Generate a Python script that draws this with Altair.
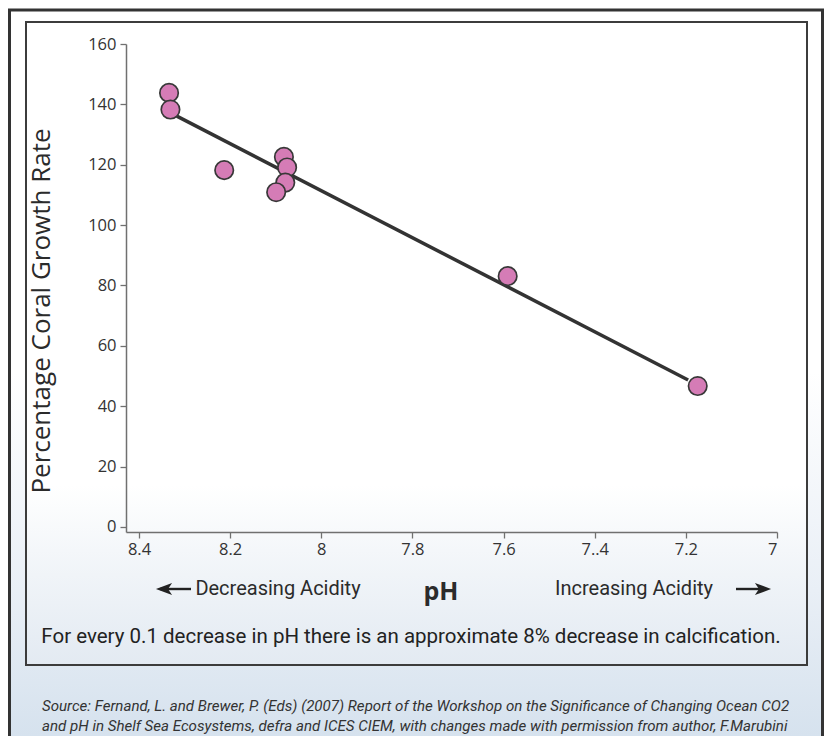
import altair as alt
import pandas as pd

# ---- data ----
ph = [8.334, 8.331, 8.213, 8.082, 8.075, 8.079, 8.099, 7.591, 7.174]
growth = [143.8, 138.3, 118.2, 122.6, 119.1, 114.1, 110.9, 83.1, 46.7]
fit_ph = [8.317, 7.195]
fit_growth = [136.1, 48.7]
x_tick_values = [8.4, 8.2, 8.0, 7.8, 7.6, 7.4, 7.2, 7.0]
x_tick_labels = ["8.4", "8.2", "8", "7.8", "7.6", "7..4", "7.2", "7"]
y_tick_values = [0, 20, 40, 60, 80, 100, 120, 140, 160]

y_title = "Percentage Coral Growth Rate"
x_title = "pH"
left_note = "Decreasing Acidity"
right_note = "Increasing Acidity"
caption = "For every 0.1 decrease in pH there is an approximate 8% decrease in calcification."
source_1 = "Source: Fernand, L. and Brewer, P. (Eds) (2007) Report of the Workshop on the Significance of Changing Ocean CO2"
source_2 = "and pH in Shelf Sea Ecosystems, defra and ICES CIEM, with changes made with permission from author, F.Marubini"

points = pd.DataFrame({"ph": ph, "growth": growth})
fit = pd.DataFrame({"ph": fit_ph, "growth": fit_growth})
one = pd.DataFrame({"k": [0]})

# plot area origin in page pixels
OX, OY = 126, 44
W, H = 651, 488


def X(sx):
    return sx - OX


def Y(sy):
    return sy - OY


label_expr = " : ".join(
    f"abs(datum.value - {v}) < 0.001 ? '{t}'" for v, t in zip(x_tick_values, x_tick_labels)
) + " : ''"

xscale = alt.Scale(domain=[7.0, 8.4285], reverse=True, nice=False, zero=False)
yscale = alt.Scale(domain=[-1.66, 160], nice=False, zero=False)

axis_common = dict(
    grid=False,
    domainColor="#707070",
    domainWidth=1.5,
    tickColor="#707070",
    tickWidth=1.3,
    tickSize=6,
    labelFont="Open Sans",
    labelFontSize=16.5,
    labelColor="#333333",
    title=None,
    zindex=2,
)

xaxis = alt.Axis(values=x_tick_values, labelExpr=label_expr, labelPadding=3, **axis_common)
yaxis = alt.Axis(values=y_tick_values, labelPadding=4, **axis_common)

TEXT = "#2b2b2b"
COND = "Roboto"

# ---- decorations ----
bg = alt.Chart(one).mark_rect(
    fill=alt.Gradient(
        gradient="linear", x1=0, x2=0, y1=0, y2=1,
        stops=[
            alt.GradientStop(offset=0, color="#ffffff"),
            alt.GradientStop(offset=0.5, color="#ffffff"),
            alt.GradientStop(offset=0.8, color="#e9eff6"),
            alt.GradientStop(offset=1, color="#d6e2ee"),
        ],
    )
).encode(x=alt.value(X(8)), x2=alt.value(X(824)), y=alt.value(Y(8)), y2=alt.value(Y(736)))

inner = alt.Chart(one).mark_rect(
    stroke="#3c3c3c", strokeWidth=2,
    fill=alt.Gradient(
        gradient="linear", x1=0, x2=0, y1=0, y2=1,
        stops=[
            alt.GradientStop(offset=0, color="#ffffff"),
            alt.GradientStop(offset=0.72, color="#ffffff"),
            alt.GradientStop(offset=0.86, color="#f0f4f8"),
            alt.GradientStop(offset=1, color="#e3eaf2"),
        ],
    ),
).encode(x=alt.value(X(26)), x2=alt.value(X(807)), y=alt.value(Y(22)), y2=alt.value(Y(665)))

frame_left = alt.Chart(one).mark_rule(color="#333333", strokeWidth=3).encode(
    x=alt.value(X(9.5)), y=alt.value(Y(9)), y2=alt.value(Y(740)))
frame_top = alt.Chart(one).mark_rule(color="#333333", strokeWidth=3).encode(
    y=alt.value(Y(10)), x=alt.value(X(8)), x2=alt.value(X(824)))
frame_right = alt.Chart(one).mark_rule(color="#333333", strokeWidth=3).encode(
    x=alt.value(X(822.5)), y=alt.value(Y(9)), y2=alt.value(Y(740)))

# ---- data marks ----
line = alt.Chart(fit).mark_line(color="#333333", strokeWidth=3.5).encode(
    x=alt.X("ph:Q", scale=xscale, axis=xaxis),
    y=alt.Y("growth:Q", scale=yscale, axis=yaxis),
)
dots = alt.Chart(points).mark_point(
    filled=True, shape="circle", size=340, fill="#d57cb6", fillOpacity=1,
    stroke="#383838", strokeWidth=1.7, opacity=1,
).encode(
    x=alt.X("ph:Q", scale=xscale, axis=xaxis),
    y=alt.Y("growth:Q", scale=yscale, axis=yaxis),
)

# ---- texts ----
def txt(s, sx, sy, **kw):
    return alt.Chart(one).mark_text(text=s, **kw).encode(x=alt.value(X(sx)), y=alt.value(Y(sy)))

ytitle = txt(y_title, 42, 311, angle=270, font="Open Sans", fontSize=26, color=TEXT,
             align="center", baseline="middle")
lnote = txt(left_note, 278, 589, font=COND, fontSize=20, color=TEXT, align="center", baseline="middle")
rnote = txt(right_note, 634, 589, font=COND, fontSize=20, color=TEXT, align="center", baseline="middle")
phlab = txt(x_title, 441, 592, font="Open Sans", fontWeight="bold", fontSize=25, color=TEXT,
            align="center", baseline="middle")
cap = txt(caption, 411, 637, font=COND, fontSize=20.5, color="#222222", align="center", baseline="middle")
src1 = txt(source_1, 42, 706, font=COND, fontStyle="italic", fontSize=15.1, color="#333333",
           align="left", baseline="middle")
src2 = txt(source_2, 42, 726, font=COND, fontStyle="italic", fontSize=15.1, color="#333333",
           align="left", baseline="middle")

# arrows
arrow_y = 589
larrow_line = alt.Chart(one).mark_rule(color="#222222", strokeWidth=2.4).encode(
    y=alt.value(Y(arrow_y)), x=alt.value(X(160)), x2=alt.value(X(191)))
rarrow_line = alt.Chart(one).mark_rule(color="#222222", strokeWidth=2.4).encode(
    y=alt.value(Y(arrow_y)), x=alt.value(X(736)), x2=alt.value(X(766)))
lhead = alt.Chart(one).mark_point(
    shape="M -1 0 L 1 -0.75 L 0.5 0 L 1 0.75 Z", filled=True, fill="#222222", size=260,
    fillOpacity=1, opacity=1, strokeWidth=0,
).encode(x=alt.value(X(164)), y=alt.value(Y(arrow_y)))
rhead = alt.Chart(one).mark_point(
    shape="M 1 0 L -1 -0.75 L -0.5 0 L -1 0.75 Z", filled=True, fill="#222222", size=260,
    fillOpacity=1, opacity=1, strokeWidth=0,
).encode(x=alt.value(X(763)), y=alt.value(Y(arrow_y)))

chart = alt.layer(
    bg, inner, frame_left, frame_top, frame_right,
    line, dots,
    ytitle, lnote, rnote, phlab, cap, src1, src2,
    larrow_line, rarrow_line, lhead, rhead,
).properties(
    width=W, height=H,
    autosize=alt.AutoSizeParams(type="none"),
    padding={"left": OX - 8, "top": OY - 8, "right": 816 - (OX - 8) - W, "bottom": 728 - (OY - 8) - H},
).configure_view(stroke=None, fill=None).configure(background="#ffffff")

chart.save("out.html", embed_options={"renderer": "svg", "actions": False})
